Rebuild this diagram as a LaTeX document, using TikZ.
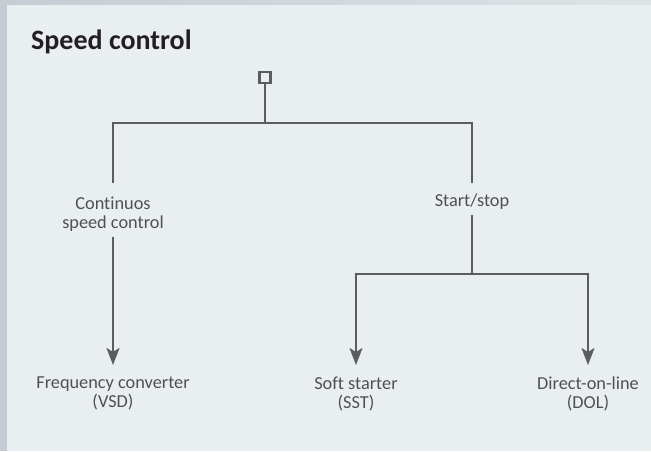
\documentclass[tikz,border=0pt]{standalone}
\usepackage{fontspec}
\setmainfont[Ligatures={NoCommon,NoContextual}]{Carlito}
\usetikzlibrary{arrows.meta}
\definecolor{framec}{HTML}{C4CDD3}
\definecolor{framelight}{HTML}{DEE3E7}
\definecolor{panelc}{HTML}{E9EEF1}
\definecolor{linec}{HTML}{5B5C5E}
\definecolor{labelc}{HTML}{4F5052}
\definecolor{titlec}{HTML}{231F20}
\begin{document}
\begin{tikzpicture}[x=1pt,y=-1pt,
  conn/.style={draw=linec,line width=2.4pt},
  tipa/.tip={Stealth[length=17pt,width=13pt,inset=4pt]},
  arr/.style={conn,-tipa},
  lbl/.style={text=labelc,font=\fontsize{18.3}{19}\selectfont,align=center,inner sep=0pt},
  leaf/.style={lbl,anchor=north,inner ysep=12pt},
  titlestyle/.style={anchor=base west,text=titlec,font=\bfseries\fontsize{28}{30}\selectfont,inner sep=0pt},
  rootbox/.style={draw=linec,line width=2.2pt,minimum size=11pt,inner sep=0pt}]
\useasboundingbox (0,0) rectangle (651,451);
\fill[framec] (0,0) rectangle (651,451);
\shade[left color=framec,right color=framelight] (0,0) rectangle (651,5);
\fill[panelc] (7,5) rectangle (651,451);

\node[titlestyle] (title) at (31,49) {Speed control};
\node[rootbox] (root) at (265,77.2) {};
\coordinate (j1) at (265,123);
\node[lbl,anchor=north] (cont) at (113,196.7) {Continuos\\speed control};
\node[lbl,anchor=base,text height=23.7pt,text depth=8.3pt] (ss) at (472,206.7) {Start/stop};
\coordinate (j2) at (472,274);
\node[leaf] (vsd) at (113,365) {Frequency converter\\(VSD)};
\node[leaf] (sst) at (356,365) {Soft starter\\(SST)};
\node[leaf] (dol) at (588,365) {Direct-on-line\\(DOL)};

\draw[conn] (root.south) -- (j1);
\draw[conn,shorten <=13.7pt] (cont.north) |- (j1) -| (ss.north);
\draw[arr,shorten <=5pt] (cont.south) -- (vsd.north);
\draw[conn] (ss.south) -- (j2);
\draw[conn,tipa-tipa] (sst.north) |- (j2) -| (dol.north);
\end{tikzpicture}
\end{document}
